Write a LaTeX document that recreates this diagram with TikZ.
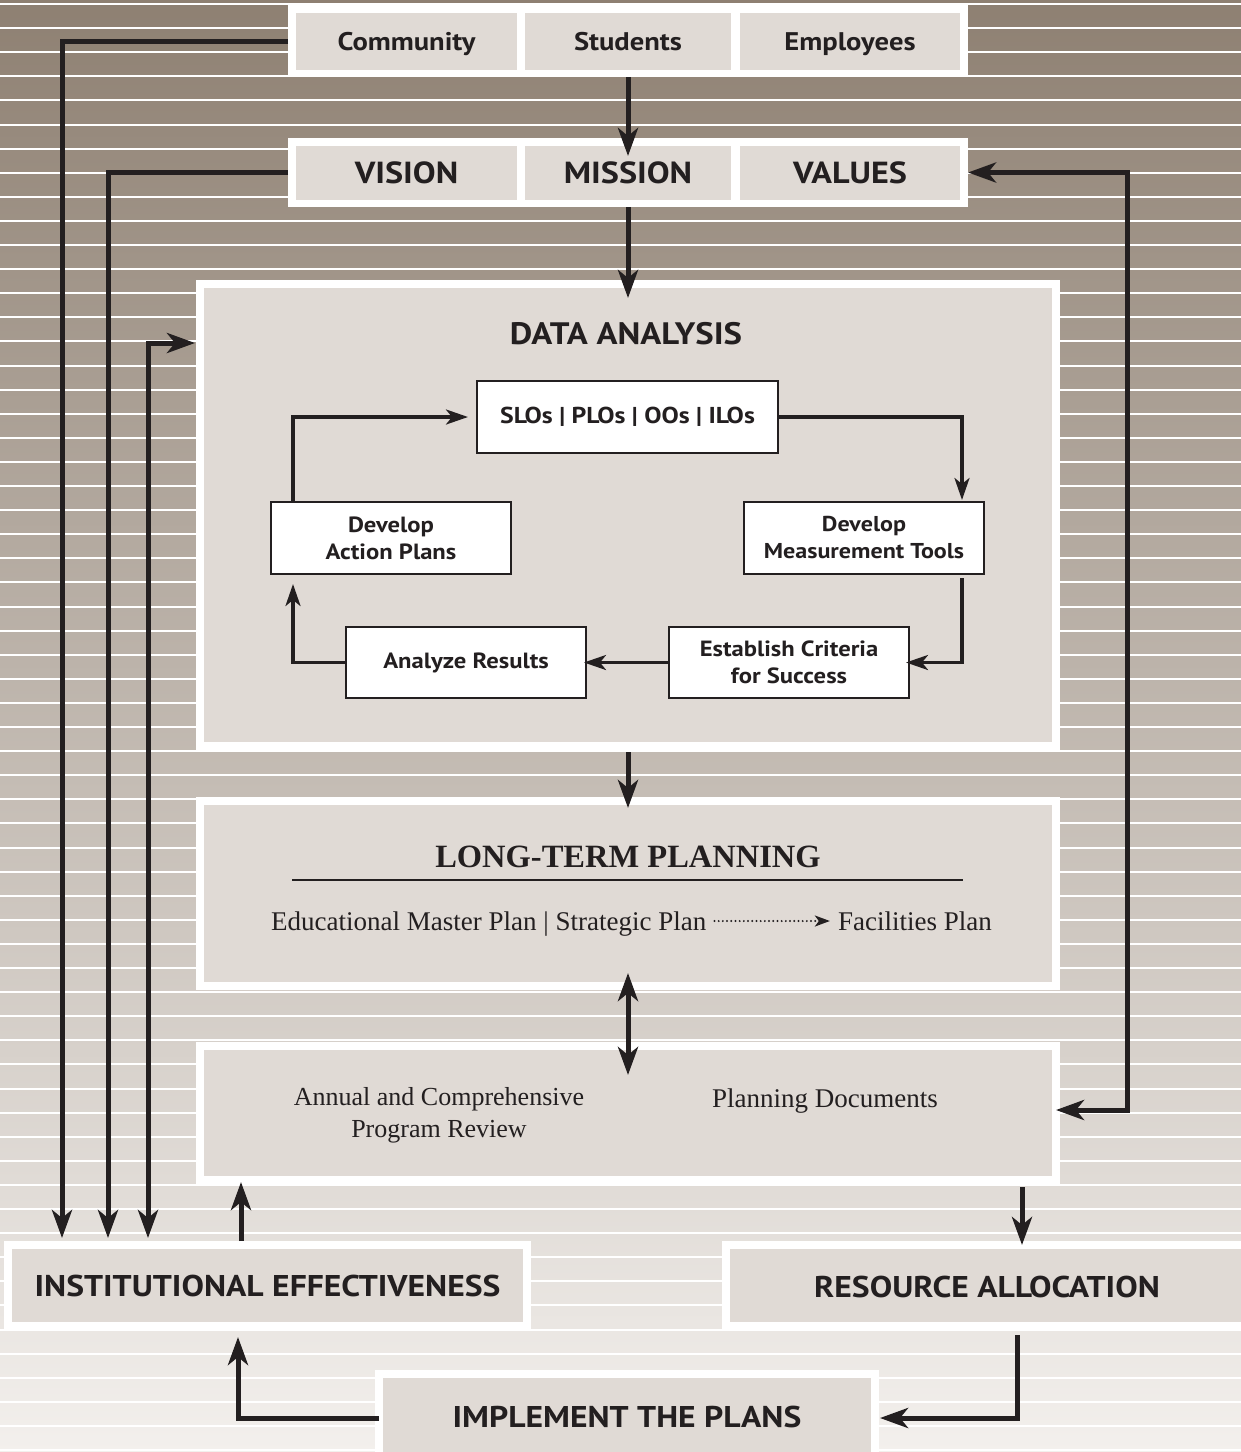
\documentclass[tikz,border=0pt]{standalone}
\usepackage{fontspec}
\setmainfont{Liberation Serif}
\setsansfont{PT Sans}[FakeStretch=1.12]
\usetikzlibrary{arrows.meta,calc}
\definecolor{bgtop}{HTML}{8E8072}
\definecolor{bgbot}{HTML}{F3F0ED}
\definecolor{boxgray}{HTML}{E0DAD5}
\definecolor{linec}{HTML}{231F20}
\begin{document}
\begin{tikzpicture}[x=1pt,y=-1pt,
  every node/.style={text=linec},
  rowbg/.style={rectangle, fill=white, inner sep=0pt, outer sep=0pt},
  cell/.style={rectangle, fill=boxgray, inner sep=0pt, outer sep=0pt, minimum height=57pt},
  toptext/.style={font=\sffamily\bfseries\fontsize{25.5}{30}\selectfont, text height=17.8pt, text depth=0pt},
  vmvtext/.style={font=\sffamily\bfseries\fontsize{30.5}{36}\selectfont, text height=21.4pt, text depth=0pt},
  panel/.style={rectangle, fill=boxgray, draw=white, line width=8pt, inner sep=0pt, outer sep=0pt},
  bigtext/.style={font=\sffamily\bfseries\fontsize{30}{36}\selectfont, text height=21pt, text depth=0pt},
  cyc/.style={rectangle, fill=white, draw=linec, line width=1.3pt, inner sep=0pt, outer sep=0pt,
    minimum width=240pt, minimum height=72pt, align=center,
    font=\sffamily\bfseries\fontsize{22}{27}\selectfont},
  serif/.style={font=\rmfamily\fontsize{27}{32}\selectfont},
  big/.style={line width=5pt, draw=linec, -{Stealth[length=28pt,width=20pt,inset=8pt]}},
  bigboth/.style={line width=5pt, draw=linec, {Stealth[length=28pt,width=20pt,inset=8pt]}-{Stealth[length=28pt,width=20pt,inset=8pt]}},
  thin/.style={line width=3.3pt, draw=linec, -{Stealth[length=22pt,width=15pt,inset=6pt]}}
]
\useasboundingbox (0,0) rectangle (1241,1452);
\clip (0,0) rectangle (1241,1452);
% background
\shade[top color=bgtop, bottom color=bgbot] (0,0) rectangle (1241,1452);
\foreach \k in {0,...,60} {
  \fill[white] (0,{3+24.1*\k}) rectangle (1241,{5+24.1*\k});
}

% top row
\node[rowbg, minimum width=680pt, minimum height=72pt] (toprow) at (628,41) {};
\node[cell, minimum width=221pt, toptext] (community) at (406.5,41.5) {Community};
\node[cell, minimum width=206pt, toptext] (students) at (628,41.5) {Students};
\node[cell, minimum width=220pt, toptext] (employees) at (850,41.5) {Employees};

% vision row
\node[rowbg, minimum width=680pt, minimum height=69pt] (vmvrow) at (628,172.5) {};
\node[cell, minimum width=221pt, minimum height=54pt, vmvtext] (vision) at (406.5,173) {VISION};
\node[cell, minimum width=206pt, minimum height=54pt, vmvtext] (mission) at (628,173) {MISSION};
\node[cell, minimum width=220pt, minimum height=54pt, vmvtext] (values) at (850,173) {VALUES};

% data analysis
\node[panel, minimum width=856pt, minimum height=462pt] (da) at (628,515) {};
\node[font=\sffamily\bfseries\fontsize{31}{36}\selectfont, text height=21.7pt, text depth=0pt] (datitle) at (626,334) {DATA ANALYSIS};
\node[cyc, minimum width=301pt, font=\sffamily\bfseries\fontsize{23}{27}\selectfont] (slos) at (627.5,417) {SLOs \textbar{} PLOs \textbar{} OOs \textbar{} ILOs};
\node[cyc] (ap) at (391,538) {Develop\\Action Plans};
\node[cyc, font=\sffamily\bfseries\fontsize{21.5}{27}\selectfont] (mt) at (864,538) {Develop\\Measurement Tools};
\node[cyc, minimum height=71pt] (ar) at (466,662.5) {Analyze Results};
\node[cyc, minimum height=71pt] (ec) at (789,662.5) {Establish Criteria\\for Success};

% long-term planning
\node[panel, minimum width=856pt, minimum height=185pt] (ltp) at (628,893.5) {};
\node[font=\rmfamily\bfseries\fontsize{32.5}{38}\selectfont, text height=21.5pt, text depth=0pt] (ltptitle) at (628,857) {LONG-TERM PLANNING};
\draw[line width=2.5pt, linec] (292,880) -- (963,880);
\node[serif, anchor=west, inner sep=0pt, text height=18pt, text depth=0pt] (emp) at (271,921) {Educational Master Plan \textbar{} Strategic Plan};
\node[serif, anchor=east, inner sep=0pt, text height=18pt, text depth=0pt] (fac) at (992,921) {Facilities Plan};
\draw[line width=2.2pt, linec, line cap=round, dash pattern=on 0pt off 4.2pt, shorten <=8pt, shorten >=8pt,
  -{Stealth[length=15pt,width=11pt,inset=4pt,line cap=butt]}] (emp.east) -- (fac.west);

% annual
\node[panel, minimum width=856pt, minimum height=134pt] (annual) at (628,1113) {};
\node[serif, align=center, font=\rmfamily\fontsize{26}{32}\selectfont] (apr) at (439,1115) {Annual and Comprehensive\\Program Review};
\node[serif, text height=18pt, text depth=0pt] (pd) at (825,1098.5) {Planning Documents};

% bottom boxes
\node[panel, minimum width=519pt, minimum height=81pt, bigtext] (ie) at (267.5,1285.5) {INSTITUTIONAL EFFECTIVENESS};
\node[panel, minimum width=544pt, minimum height=81pt] (ra) at (998,1285.5) {};
\node[bigtext] (ratext) at (987,1287) {RESOURCE ALLOCATION};
\node[panel, minimum width=496pt, minimum height=96pt] (impl) at (627,1422) {};
\node[bigtext] (impltext) at (627,1417) {IMPLEMENT THE PLANS};

% cycle arrows
\draw[thin, shorten >=9pt] ([xshift=22pt]ap.north west) |- (slos.west);
\draw[thin, shorten >=2pt] (slos.east) -| ([xshift=-22pt]mt.north east);
\draw[thin, shorten <=4pt, shorten >=-3pt] ([xshift=-22pt]mt.south east) |- (ec.east);
\draw[thin, shorten >=-2pt] (ec.west) -- (ar.east);
\draw[thin, shorten >=10pt] (ar.west) -| ([xshift=22pt]ap.south west);

% main arrows
\draw[big, shorten >=-18pt] (toprow.south) -- (vmvrow.north);
\draw[big, shorten >=-14pt] (vmvrow.south) -- (da.north);
\draw[big, shorten <=6pt, shorten >=-7pt] (da.south) -- (ltp.north);
\draw[bigboth, shorten <=-13pt, shorten >=-29pt] (ltp.south) -- (annual.north);
\draw[big, shorten >=7pt] (toprow.west) -| ([xshift=54pt]ie.north west);
\draw[big, shorten >=7pt] (vmvrow.west) -| ([xshift=100pt]ie.north west);
\draw[bigboth, shorten <=5pt, shorten >=7pt] ([yshift=-59pt]da.north west) -| ([xshift=140pt]ie.north west);
\draw[bigboth] (vmvrow.east) -- ++(159,0) |- ([yshift=3pt]annual.east);
\draw[big, shorten <=4pt, shorten >=2pt] ([xshift=-26.5pt]ie.north) -- ([xshift=-26.5pt]ie.north |- annual.south);
\draw[big, shorten <=7pt] (annual.south -| 1022,0) -- (ra.north -| 1022,0);
\draw[big, shorten <=9pt, shorten >=5pt] ([xshift=19pt]ra.south) |- ([yshift=4pt]impl.east);
\draw[big, shorten >=11pt] ([yshift=4pt]impl.west) -| ([xshift=-29.5pt]ie.south);
\end{tikzpicture}
\end{document}
